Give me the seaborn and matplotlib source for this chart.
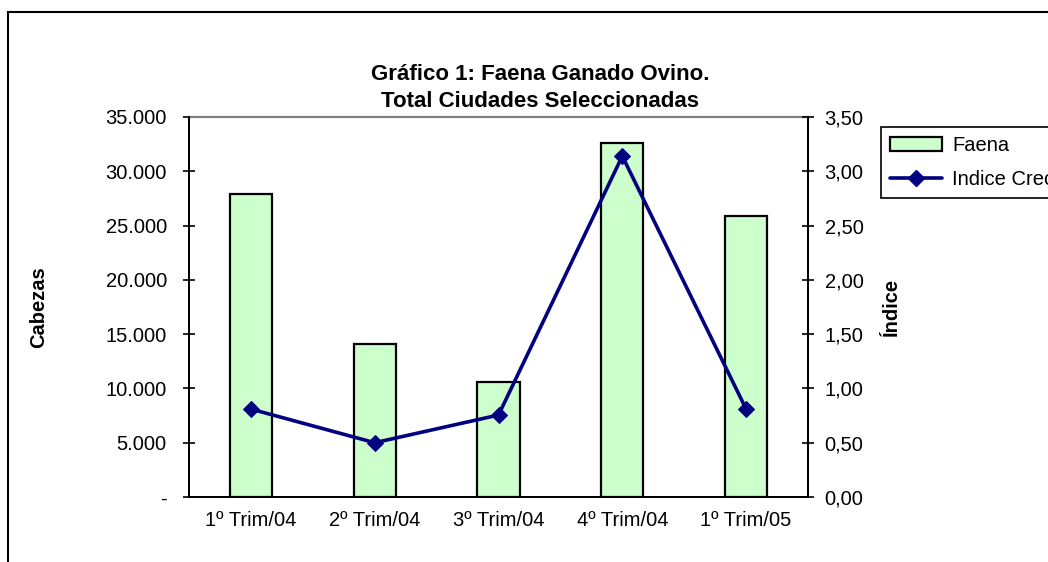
import matplotlib
matplotlib.use("Agg")
import matplotlib.pyplot as plt
import seaborn as sns
import numpy as np
import pandas as pd
from matplotlib.patches import Patch, Rectangle
from matplotlib.lines import Line2D
from matplotlib.ticker import FixedLocator

categories = ["1º Trim/04", "2º Trim/04", "3º Trim/04", "4º Trim/04", "1º Trim/05"]
faena = [27900, 14100, 10550, 32600, 25900]
indice = [0.81, 0.50, 0.755, 3.14, 0.81]
left_ticks = [0, 5000, 10000, 15000, 20000, 25000, 30000, 35000]
left_labels = ["-", "5.000", "10.000", "15.000", "20.000", "25.000", "30.000", "35.000"]
right_ticks = [0, 0.5, 1.0, 1.5, 2.0, 2.5, 3.0, 3.5]
right_labels = ["0,00", "0,50", "1,00", "1,50", "2,00", "2,50", "3,00", "3,50"]

sns.set_style("white")
plt.rcParams["font.family"] = ["Liberation Sans", "DejaVu Sans"]
plt.rcParams["text.color"] = "black"
plt.rcParams["xtick.color"] = "black"
plt.rcParams["ytick.color"] = "black"
plt.rcParams["axes.labelcolor"] = "black"

W, H = 1048, 562
L, R, T, B = 189, 808, 117, 497
fig = plt.figure(figsize=(W / 100, H / 100), dpi=100)
ax = fig.add_axes([L / W, 1 - B / H, (R - L) / W, (B - T) / H])

df = pd.DataFrame({"cat": categories, "faena": faena})
sns.barplot(data=df, x="cat", y="faena", ax=ax, color="#CCFFCC", width=0.34,
            edgecolor="black", linewidth=1.6, saturation=1)
for p in ax.patches:
    p.set_facecolor("#CCFFCC")

ax.set_xlim(-0.5, 4.5)
ax.set_ylim(0, 35000)
ax.yaxis.set_major_locator(FixedLocator(left_ticks))
ax.set_yticklabels(left_labels, fontsize=14.5)
ax.set_xticks(range(5))
ax.set_xticklabels(categories, fontsize=14.5)
ax.set_xticks(np.arange(-0.5, 5.0, 1.0), minor=True)
ax.tick_params(axis="x", which="major", length=0, pad=10)
ax.tick_params(axis="x", which="minor", length=6, width=1.2, direction="out", color="black")
ax.tick_params(axis="y", which="major", length=8, width=1.2, direction="inout", color="black", pad=12, left=True)
ax.set_xlabel("")
ax.set_ylabel("Cabezas", fontsize=14.5, fontweight="bold")
ax.yaxis.set_label_coords((48 - L) / (R - L), 0.5)

for s in ["left", "bottom", "right"]:
    ax.spines[s].set_color("black")
    ax.spines[s].set_linewidth(1.4)
ax.spines["top"].set_color("#808080")
ax.spines["top"].set_linewidth(1.6)

ax2 = ax.twinx()
sns.lineplot(x=np.arange(len(indice)), y=indice, ax=ax2, color="#000080", linewidth=2.6,
             marker="D", markersize=8, markeredgecolor="#000080", markerfacecolor="#000080")
ax2.set_ylim(0, 3.5)
ax2.set_xlim(-0.5, 4.5)
ax2.yaxis.set_major_locator(FixedLocator(right_ticks))
ax2.set_yticklabels(right_labels, fontsize=14.5)
ax2.tick_params(axis="y", which="major", length=8, width=1.2, direction="inout", color="black", pad=8, right=True)
ax2.set_ylabel("Índice", fontsize=14.5, fontweight="bold", rotation=90)
ax2.yaxis.set_label_position("right")
ax2.yaxis.set_label_coords((882 - L) / (R - L), 0.5)
for s in ["left", "bottom", "right"]:
    ax2.spines[s].set_color("black")
    ax2.spines[s].set_linewidth(1.4)
ax2.spines["top"].set_visible(False)

fig.text(540 / W, 1 - 88 / H, "Gráfico 1: Faena Ganado Ovino.\nTotal Ciudades Seleccionadas",
         ha="center", va="center", fontsize=16, fontweight="bold", linespacing=1.4)

handles = [Patch(facecolor="#CCFFCC", edgecolor="black", linewidth=1.6),
           Line2D([0], [0], color="#000080", linewidth=2.6, marker="D", markersize=8)]
leg = fig.legend(handles, ["Faena", "Indice Crecimiento"], loc="upper left",
                 bbox_to_anchor=(881 / W, 1 - 127 / H), fontsize=14.5, frameon=True,
                 fancybox=False, edgecolor="black", framealpha=1, borderpad=0.45,
                 handlelength=2.6, handletextpad=0.5, labelspacing=0.75, borderaxespad=0)
leg.get_frame().set_linewidth(1.2)

fig.patches.append(Rectangle((8 / W, -0.1), 1.2, 1.1 - 12 / H, transform=fig.transFigure,
                             fill=False, edgecolor="black", linewidth=1.5))

fig.savefig("out.png", dpi=100)
